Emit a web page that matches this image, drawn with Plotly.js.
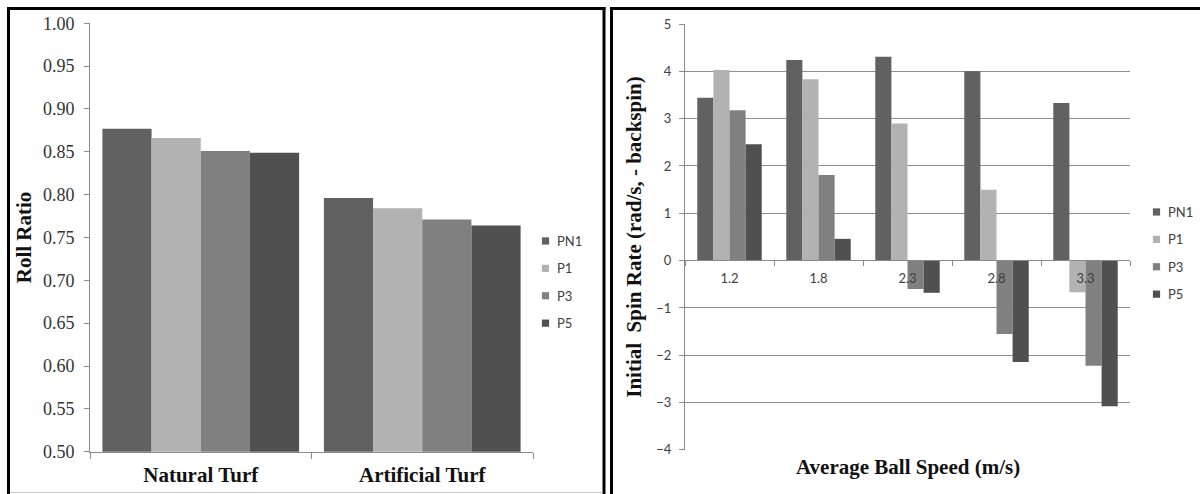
<!DOCTYPE html>
<html>
<head>
<meta charset="utf-8">
<script src="https://cdn.plot.ly/plotly-3.0.1.min.js"></script>
<style>html,body{margin:0;padding:0;background:#fff;}#chart{width:1200px;height:494px;}</style>
</head>
<body>
<div id="chart"></div>
<script>
// ---- data ----
const turfCategories = ['Natural Turf', 'Artificial Turf'];
const seriesNames = ['PN1', 'P1', 'P3', 'P5'];
const rollPN1 = [0.877, 0.796];
const rollP1 = [0.866, 0.784];
const rollP3 = [0.851, 0.771];
const rollP5 = [0.849, 0.764];

const speedLabels = ['1.2', '1.8', '2.3', '2.8', '3.3'];
const spinPN1 = [3.44, 4.24, 4.31, 4.00, 3.33];
const spinP1 = [4.03, 3.83, 2.90, 1.50, -0.67];
const spinP3 = [3.18, 1.81, -0.60, -1.55, -2.22];
const spinP5 = [2.46, 0.46, -0.68, -2.14, -3.08];

// ---- styles ----
const seriesColors = ['#616161', '#b2b2b2', '#808080', '#505050'];
const rollData = [rollPN1, rollP1, rollP3, rollP5];
const spinData = [spinPN1, spinP1, spinP3, spinP5];
const serif = 'Liberation Serif, Times New Roman, serif';
const sans = 'Lato, Carlito, Open Sans, sans-serif';
const axisGray = '#8a8a8a';

const W = 1200, H = 494;
const px = v => v / W;
const py = v => 1 - v / H;

const leftW = 0.222, rightW = 0.181;
const traces = [];
seriesNames.forEach((name, i) => {
  traces.push({
    type: 'bar', name: name, x: turfCategories, y: rollData[i],
    xaxis: 'x', yaxis: 'y', legend: 'legend', legendgroup: 'L' + name,
    marker: {color: seriesColors[i], line: {width: 0}},
    width: leftW, offset: -2 * leftW + i * leftW,
    hoverinfo: 'x+y+name'
  });
});
seriesNames.forEach((name, i) => {
  traces.push({
    type: 'bar', name: name, x: speedLabels, y: spinData[i],
    xaxis: 'x2', yaxis: 'y2', legend: 'legend2', legendgroup: 'R' + name,
    marker: {color: seriesColors[i], line: {width: 0}},
    width: rightW, offset: -2 * rightW + i * rightW,
    hoverinfo: 'x+y+name'
  });
});

const legendCommon = {
  xanchor: 'left', yanchor: 'top', bgcolor: 'rgba(0,0,0,0)',
  font: {family: sans, size: 13, color: '#404040'},
  traceorder: 'grouped', tracegroupgap: 7.5
};

const layout = {
  width: W, height: H,
  margin: {l: 0, r: 0, t: 0, b: 0, autoexpand: false},
  paper_bgcolor: '#ffffff', plot_bgcolor: 'rgba(0,0,0,0)',
  barmode: 'overlay',
  showlegend: true,
  xaxis: {
    domain: [px(90), px(533)], anchor: 'y', type: 'category', range: [-0.5, 1.5],
    showline: true, linecolor: axisGray, linewidth: 1,
    ticks: 'outside', tickson: 'boundaries', ticklen: 6, tickcolor: axisGray,
    showgrid: false, zeroline: false,
    tickfont: {family: serif, size: 21, color: '#111111', weight: 'bold'},
    ticklabelstandoff: 4, fixedrange: true
  },
  yaxis: {
    domain: [py(451.7), py(23.3)], anchor: 'x', range: [0.5, 1.0],
    tick0: 0.5, dtick: 0.05, tickformat: '.2f',
    showline: true, linecolor: axisGray, linewidth: 1,
    ticks: 'outside', ticklen: 5, tickcolor: axisGray,
    showgrid: false, zeroline: false,
    tickfont: {family: serif, size: 18, color: '#333333'},
    ticklabelstandoff: 6,
    title: {text: 'Roll Ratio', font: {family: serif, size: 21, color: '#111111', weight: 'bold'}, standoff: 5},
    fixedrange: true
  },
  xaxis2: {
    domain: [px(685), px(1130)], anchor: 'free', position: py(260), type: 'category', range: [-0.5, 4.5],
    showline: true, linecolor: axisGray, linewidth: 1,
    ticks: 'outside', tickson: 'boundaries', ticklen: 5, tickcolor: axisGray,
    showgrid: false, zeroline: false,
    tickfont: {family: sans, size: 13, color: '#404040'},
    ticklabelstandoff: 6, fixedrange: true
  },
  yaxis2: {
    domain: [py(450), py(24)], anchor: 'x2', range: [-4.002, 5], dtick: 1, tick0: 0,
    showline: true, linecolor: axisGray, linewidth: 1,
    ticks: 'outside', ticklen: 5, tickcolor: axisGray,
    showgrid: true, gridcolor: '#8f8f8f', gridwidth: 1, zeroline: false,
    tickfont: {family: sans, size: 13, color: '#404040'},
    ticklabelstandoff: 5,
    title: {text: 'Initial  Spin Rate (rad/s, - backspin)', font: {family: serif, size: 21, color: '#111111', weight: 'bold'}, standoff: 8},
    fixedrange: true
  },
  legend: Object.assign({}, legendCommon, {x: px(517), y: py(226)}),
  legend2: Object.assign({}, legendCommon, {x: px(1128), y: py(197)}),
  annotations: [{
    xref: 'paper', yref: 'paper', x: px(907.5), y: py(466.7), xanchor: 'center', yanchor: 'middle',
    text: 'Average Ball Speed (m/s)', showarrow: false,
    font: {family: serif, size: 21, color: '#111111', weight: 'bold'}
  }],
  shapes: [
    // left panel frame
    {type: 'line', xref: 'paper', yref: 'paper', x0: px(8.5), x1: px(8.5), y0: -0.02, y1: py(7), line: {color: '#000', width: 3}},
    {type: 'line', xref: 'paper', yref: 'paper', x0: px(7), x1: px(605.5), y0: py(8.5), y1: py(8.5), line: {color: '#000', width: 3}},
    {type: 'line', xref: 'paper', yref: 'paper', x0: px(604), x1: px(604), y0: -0.02, y1: py(7), line: {color: '#000', width: 3}},
    {type: 'line', xref: 'paper', yref: 'paper', x0: px(10), x1: px(602.5), y0: py(492.5), y1: py(492.5), line: {color: '#c8c8c8', width: 1}},
    // right panel frame
    {type: 'line', xref: 'paper', yref: 'paper', x0: px(611.5), x1: px(611.5), y0: -0.02, y1: py(7), line: {color: '#000', width: 3}},
    {type: 'line', xref: 'paper', yref: 'paper', x0: px(610), x1: 1.02, y0: py(8.5), y1: py(8.5), line: {color: '#000', width: 3}}
  ]
};

// small square legend keys placed close to their labels, as in the original
function tightenLegendKeys() {
  document.querySelectorAll('g.traces').forEach(item => {
    const t = item.querySelector('text.legendtext') || item.querySelector('text');
    const p = item.querySelector('.legendpoints path');
    if (!t || !p) return;
    if (p.dataset.base === undefined) p.dataset.base = p.getAttribute('transform') || '';
    const base = p.dataset.base;
    p.setAttribute('transform', base);
    const tr = t.getBoundingClientRect();
    const pr = p.getBoundingClientRect();
    const cx = (pr.left + pr.right) / 2;
    const dx = (tr.left - 11.5) - cx;
    p.setAttribute('transform', base + ' translate(' + dx + ',0) scale(0.6)');
  });
}

const gd = document.getElementById('chart');
Plotly.newPlot(gd, traces, layout, {displayModeBar: false, staticPlot: true}).then(() => {
  tightenLegendKeys();
  gd.on('plotly_afterplot', () => setTimeout(tightenLegendKeys, 0));
  setTimeout(tightenLegendKeys, 100);
});
</script>
</body>
</html>
